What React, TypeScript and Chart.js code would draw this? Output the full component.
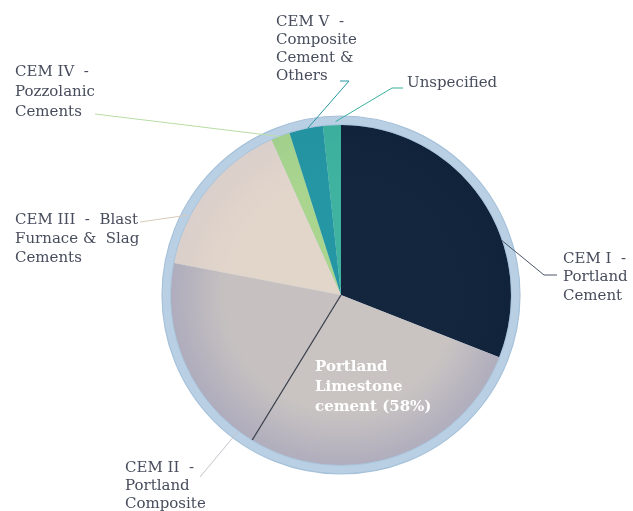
import React, { useEffect, useRef } from "react";
import { Chart, registerables } from "chart.js";

Chart.register(...registerables);

// ---- data ----
const categories = [
  "CEM I - Portland Cement",
  "Portland Limestone cement (58%)",
  "CEM II - Portland Composite",
  "CEM III - Blast Furnace & Slag Cements",
  "CEM IV - Pozzolanic Cements",
  "CEM V - Composite Cement & Others",
  "Unspecified",
];
const shares = [31.0, 27.8, 19.3, 15.3, 1.8, 3.2, 1.7];
const baseColors = ["#13263e", "#c9c4c2", "#c6c1c0", "#e2d6cb", "#a9d58f", "#2596a3", "#3fb39f"];
const edgeColors = ["#11233b", "#b0adbd", "#afacbd", "#dacfca", "#a2d08c", "#2392a1", "#3cae9d"];
const labelLines = [
  ["CEM I  -", "Portland", "Cement"],
  ["Portland", "Limestone", "cement (58%)"],
  ["CEM II  -", "Portland", "Composite"],
  ["CEM III  -  Blast", "Furnace &  Slag", "Cements"],
  ["CEM IV  -", "Pozzolanic", "Cements"],
  ["CEM V  -", "Composite", "Cement &", "Others"],
  ["Unspecified"],
];

// ---- layout of annotations ----
type Layout = {
  x: number;
  y: number;
  lh: number;
  inside?: boolean;
  start?: [number, number];
  elbow?: [number, number];
  frac?: number;
  rf?: number;
  color?: string;
};
const labelLayout: Layout[] = [
  { x: 563, y: 259, lh: 18.5, start: [557, 275], elbow: [544, 275], frac: 0.64, rf: 1.0, color: "#4a5566" },
  { x: 315, y: 367, lh: 20, inside: true },
  { x: 125, y: 468, lh: 18, start: [200, 477], frac: 0.08, rf: 1.0, color: "#c4c4cc" },
  { x: 15, y: 220, lh: 19, start: [140, 222], frac: 0.3, rf: 1.02, color: "#d9cabb" },
  { x: 15, y: 72, lh: 20, start: [95, 114], frac: 0.45, rf: 1.0, color: "#b8dca4" },
  { x: 276, y: 22, lh: 18.2, start: [340, 81], elbow: [349, 81], frac: 0.55, rf: 1.0, color: "#2597a2" },
  { x: 407, y: 83, lh: 18, start: [403, 88], elbow: [392, 88], frac: 0.7, rf: 1.02, color: "#3ab0a0" },
];

const FONT = '"DejaVu Serif", "Liberation Serif", serif';

const pieDecor = {
  id: "pieDecor",
  beforeDatasetsDraw(chart: any) {
    const meta = chart.getDatasetMeta(0);
    const arc = meta.data[0];
    if (!arc) return;
    const { x, y, outerRadius } = arc.getProps(["x", "y", "outerRadius"], true);
    const c = chart.ctx;
    c.save();
    c.beginPath();
    c.arc(x, y, outerRadius + 9, 0, Math.PI * 2);
    c.fillStyle = "#b9d0e4";
    c.fill();
    c.lineWidth = 1.2;
    c.strokeStyle = "#a6c1d9";
    c.stroke();
    c.restore();
  },
  afterDatasetsDraw(chart: any) {
    const meta = chart.getDatasetMeta(0);
    const c = chart.ctx;
    const first = meta.data[0];
    if (!first) return;
    const { x, y, outerRadius } = first.getProps(["x", "y", "outerRadius"], true);
    c.save();
    // thin inner rim line
    c.beginPath();
    c.arc(x, y, outerRadius + 0.5, 0, Math.PI * 2);
    c.strokeStyle = "rgba(160,188,214,0.6)";
    c.lineWidth = 1;
    c.stroke();
    // dark divider between limestone and composite
    const lim = meta.data[1].getProps(["endAngle"], true);
    c.beginPath();
    c.moveTo(x, y);
    c.lineTo(x + outerRadius * Math.cos(lim.endAngle), y + outerRadius * Math.sin(lim.endAngle));
    c.strokeStyle = "#3b404c";
    c.lineWidth = 1.3;
    c.stroke();

    labelLayout.forEach((L, i) => {
      const el = meta.data[i];
      const lines = labelLines[i];
      if (!L.inside && L.start && el) {
        const p = el.getProps(["startAngle", "endAngle"], true);
        const a = p.startAngle + (L.frac as number) * (p.endAngle - p.startAngle);
        const r = outerRadius * (L.rf as number);
        c.beginPath();
        c.moveTo(L.start[0], L.start[1]);
        if (L.elbow) c.lineTo(L.elbow[0], L.elbow[1]);
        c.lineTo(x + r * Math.cos(a), y + r * Math.sin(a));
        c.strokeStyle = L.color as string;
        c.lineWidth = 1;
        c.stroke();
      }
      c.textBaseline = "middle";
      c.textAlign = "left";
      if (L.inside) {
        c.font = `bold 15px ${FONT}`;
        c.fillStyle = "#ffffff";
      } else {
        c.font = `15px ${FONT}`;
        c.fillStyle = "#474d5c";
      }
      lines.forEach((t, k) => c.fillText(t, L.x, L.y + k * L.lh));
    });
    c.restore();
  },
};

export default function App() {
  const ref = useRef<HTMLCanvasElement>(null);
  useEffect(() => {
    if (!ref.current) return;
    const chart = new Chart(ref.current, {
      type: "pie",
      data: {
        labels: categories,
        datasets: [
          {
            data: shares,
            borderWidth: 0,
            backgroundColor: (ctx: any) => {
              const i = ctx.dataIndex;
              const ch = ctx.chart;
              const area = ch.chartArea;
              if (!area) return baseColors[i];
              const cx = (area.left + area.right) / 2;
              const cy = (area.top + area.bottom) / 2;
              const r = Math.min(area.right - area.left, area.bottom - area.top) / 2;
              const g = ch.ctx.createRadialGradient(cx, cy, 0, cx, cy, r);
              g.addColorStop(0, baseColors[i]);
              g.addColorStop(0.68, baseColors[i]);
              g.addColorStop(1, edgeColors[i]);
              return g;
            },
          },
        ],
      },
      options: {
        animation: false,
        responsive: true,
        maintainAspectRatio: false,
        events: [],
        layout: { padding: { left: 171, right: 122, top: 125, bottom: 46 } },
        plugins: { legend: { display: false }, tooltip: { enabled: false }, title: { display: false } },
      },
      plugins: [pieDecor],
    });
    return () => chart.destroy();
  }, []);
  return (
    <div style={{ position: "absolute", left: 0, top: 0, width: 633, height: 511, background: "#ffffff" }}>
      <canvas ref={ref} />
    </div>
  );
}
